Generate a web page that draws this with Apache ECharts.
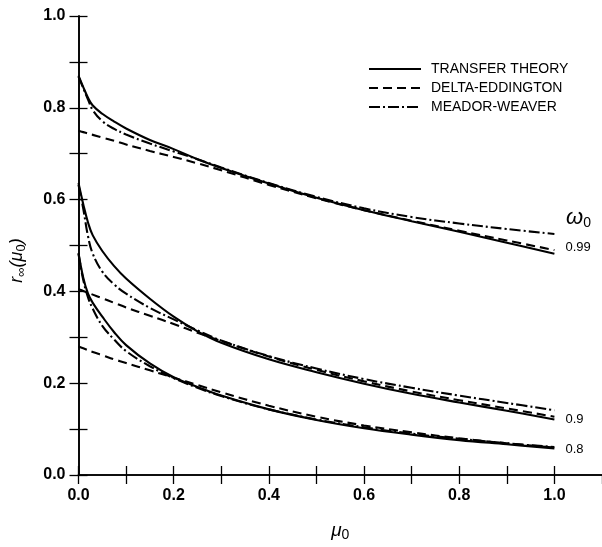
<!DOCTYPE html>
<html>
<head>
<meta charset="utf-8">
<script src="https://cdn.jsdelivr.net/npm/echarts@6/dist/echarts.min.js"></script>
<style>
html,body{margin:0;padding:0;background:#fff;}
#chart{width:602px;height:547px;}
</style>
</head>
<body>
<div id="chart"></div>
<script>
// ---- data ----
const MU = [0, 0.01, 0.02, 0.03, 0.05, 0.075, 0.1, 0.15, 0.2, 0.25, 0.3, 0.4, 0.5, 0.6, 0.7, 0.8, 0.9, 1.0];

const transfer099 = [0.870, 0.845, 0.822, 0.805, 0.787, 0.770, 0.755, 0.730, 0.710, 0.688, 0.669, 0.635, 0.604, 0.577, 0.553, 0.530, 0.506, 0.482];
const delta099    = [0.750, 0.747, 0.744, 0.741, 0.735, 0.728, 0.720, 0.706, 0.693, 0.679, 0.664, 0.632, 0.603, 0.577, 0.554, 0.532, 0.511, 0.490];
const meador099   = [0.868, 0.843, 0.818, 0.795, 0.771, 0.754, 0.742, 0.722, 0.705, 0.688, 0.670, 0.636, 0.606, 0.581, 0.562, 0.548, 0.536, 0.525];

const transfer09  = [0.636, 0.590, 0.550, 0.522, 0.488, 0.455, 0.428, 0.384, 0.345, 0.313, 0.288, 0.252, 0.224, 0.199, 0.177, 0.158, 0.140, 0.121];
const delta09     = [0.405, 0.401, 0.397, 0.393, 0.385, 0.375, 0.365, 0.347, 0.329, 0.310, 0.292, 0.258, 0.229, 0.204, 0.182, 0.163, 0.145, 0.127];
const meador09    = [0.632, 0.580, 0.520, 0.482, 0.443, 0.415, 0.395, 0.364, 0.339, 0.315, 0.293, 0.259, 0.232, 0.209, 0.190, 0.173, 0.157, 0.141];

const transfer08  = [0.484, 0.430, 0.395, 0.375, 0.345, 0.311, 0.283, 0.243, 0.213, 0.192, 0.173, 0.143, 0.120, 0.102, 0.088, 0.076, 0.067, 0.058];
const delta08     = [0.280, 0.276, 0.272, 0.268, 0.261, 0.252, 0.244, 0.228, 0.212, 0.196, 0.180, 0.151, 0.127, 0.108, 0.093, 0.080, 0.069, 0.060];
const meador08    = [0.482, 0.425, 0.387, 0.362, 0.325, 0.295, 0.270, 0.237, 0.211, 0.190, 0.172, 0.143, 0.121, 0.104, 0.090, 0.079, 0.069, 0.061];

const methods = ['TRANSFER THEORY', 'DELTA-EDDINGTON', 'MEADOR-WEAVER'];
const omegaLabels = ['0.99', '0.9', '0.8'];
const xTickLabels = ['0.0', '0.2', '0.4', '0.6', '0.8', '1.0'];
const yTickLabels = ['0.0', '0.2', '0.4', '0.6', '0.8', '1.0'];

// ---- styling ----
const FONT = 'Liberation Sans, Arial, Helvetica, sans-serif';
const INK = '#000';
const dashStyles = {
  'TRANSFER THEORY': 'solid',
  'DELTA-EDDINGTON': [9, 5],
  'MEADOR-WEAVER': [11, 3, 2, 3]
};

function pairs(ys) { return MU.map((x, i) => [x, ys[i]]); }

function tickLabel(list) {
  return function (v) {
    const k = Math.round(v * 10);
    if (k % 2 !== 0) return '';
    const s = (k / 10).toFixed(1);
    return list.indexOf(s) >= 0 ? s : '';
  };
}

function makeSeries(method, ys, endText, offY) {
  const s = {
    type: 'line',
    name: method,
    data: pairs(ys),
    xAxisIndex: 0,
    yAxisIndex: 0,
    symbol: 'none',
    showSymbol: false,
    smooth: 0.4,
    lineStyle: { color: INK, width: 2.1, type: dashStyles[method] },
    itemStyle: { color: INK },
    emphasis: { disabled: true },
    silent: true
  };
  if (endText) {
    s.endLabel = {
      show: true,
      formatter: endText,
      color: INK,
      fontFamily: FONT,
      fontSize: 13,
      distance: 11,
      offset: [0, offY || 0]
    };
  }
  return s;
}

const series = [
  makeSeries(methods[0], transfer099, omegaLabels[0], -6),
  makeSeries(methods[1], delta099),
  makeSeries(methods[2], meador099),
  makeSeries(methods[0], transfer09, omegaLabels[1], 0),
  makeSeries(methods[1], delta09),
  makeSeries(methods[2], meador09),
  makeSeries(methods[0], transfer08, omegaLabels[2], 1),
  makeSeries(methods[1], delta08),
  makeSeries(methods[2], meador08)
];

const axisLine = { show: true, lineStyle: { color: INK, width: 1.6 } };
const axisTick = { show: true, inside: true, length: 9, lineStyle: { color: INK, width: 1.3 } };
const tickFont = { color: INK, fontFamily: FONT, fontSize: 16, fontWeight: 'bold' };

const option = {
  animation: false,
  backgroundColor: '#fff',
  grid: { left: 75, top: 16, width: 529, height: 478 },
  legend: {
    data: methods,
    orient: 'vertical',
    left: 363,
    top: 57,
    itemWidth: 52,
    itemHeight: 14,
    itemGap: 5,
    selectedMode: false,
    itemStyle: { opacity: 0 },
    textStyle: { color: INK, fontFamily: FONT, fontSize: 14, lineHeight: 14, padding: [0, 0, 0, 5] }
  },
  graphic: [{
    type: 'text',
    left: 566,
    top: 207,
    style: {
      text: '{w|ω}{s|0}',
      rich: {
        w: { fontFamily: FONT, fontSize: 22, fontStyle: 'italic', fill: INK },
        s: { fontFamily: FONT, fontSize: 14, fill: INK, padding: [10, 0, 0, 0] }
      }
    }
  }],
  xAxis: [{
    type: 'value', min: 0, max: 1.1, interval: 0.1, position: 'bottom',
    axisLine: axisLine, axisTick: axisTick, splitLine: { show: false },
    axisLabel: Object.assign({ formatter: tickLabel(xTickLabels), margin: 13, showMaxLabel: false }, tickFont),
    name: '{i|μ}{s|0}',
    nameLocation: 'middle',
    nameGap: 45,
    nameTextStyle: {
      rich: {
        i: { fontFamily: FONT, fontSize: 19, fontStyle: 'italic', color: INK },
        s: { fontFamily: FONT, fontSize: 14, color: INK, padding: [8, 0, 0, 0] }
      }
    }
  }, {
    type: 'value', min: 0, max: 1.1, interval: 0.1, position: 'top',
    axisLine: axisLine, axisTick: axisTick, splitLine: { show: false },
    axisLabel: { show: false }
  }],
  yAxis: [{
    type: 'value', min: 0, max: 1, interval: 0.1, position: 'left',
    axisLine: axisLine, axisTick: axisTick, splitLine: { show: false },
    axisLabel: Object.assign({ formatter: tickLabel(yTickLabels), margin: 13 }, tickFont),
    name: '{i|r}{s|∞}{p|(}{i|μ}{s|0}{p|)}',
    nameLocation: 'middle',
    nameGap: 51,
    nameRotate: 90,
    nameTextStyle: {
      padding: [0, 30, 0, 0],
      rich: {
        i: { fontFamily: FONT, fontSize: 18, fontStyle: 'italic', color: INK },
        p: { fontFamily: FONT, fontSize: 18, fontStyle: 'italic', color: INK },
        s: { fontFamily: FONT, fontSize: 13, color: INK, padding: [8, 0, 0, 0] }
      }
    }
  }, {
    type: 'value', min: 0, max: 1, interval: 0.1, position: 'right',
    axisLine: axisLine, axisTick: axisTick, splitLine: { show: false },
    axisLabel: { show: false }
  }],
  series: series
};

const chart = echarts.init(document.getElementById('chart'), null, { renderer: 'canvas' });
chart.setOption(option);
</script>
</body>
</html>
